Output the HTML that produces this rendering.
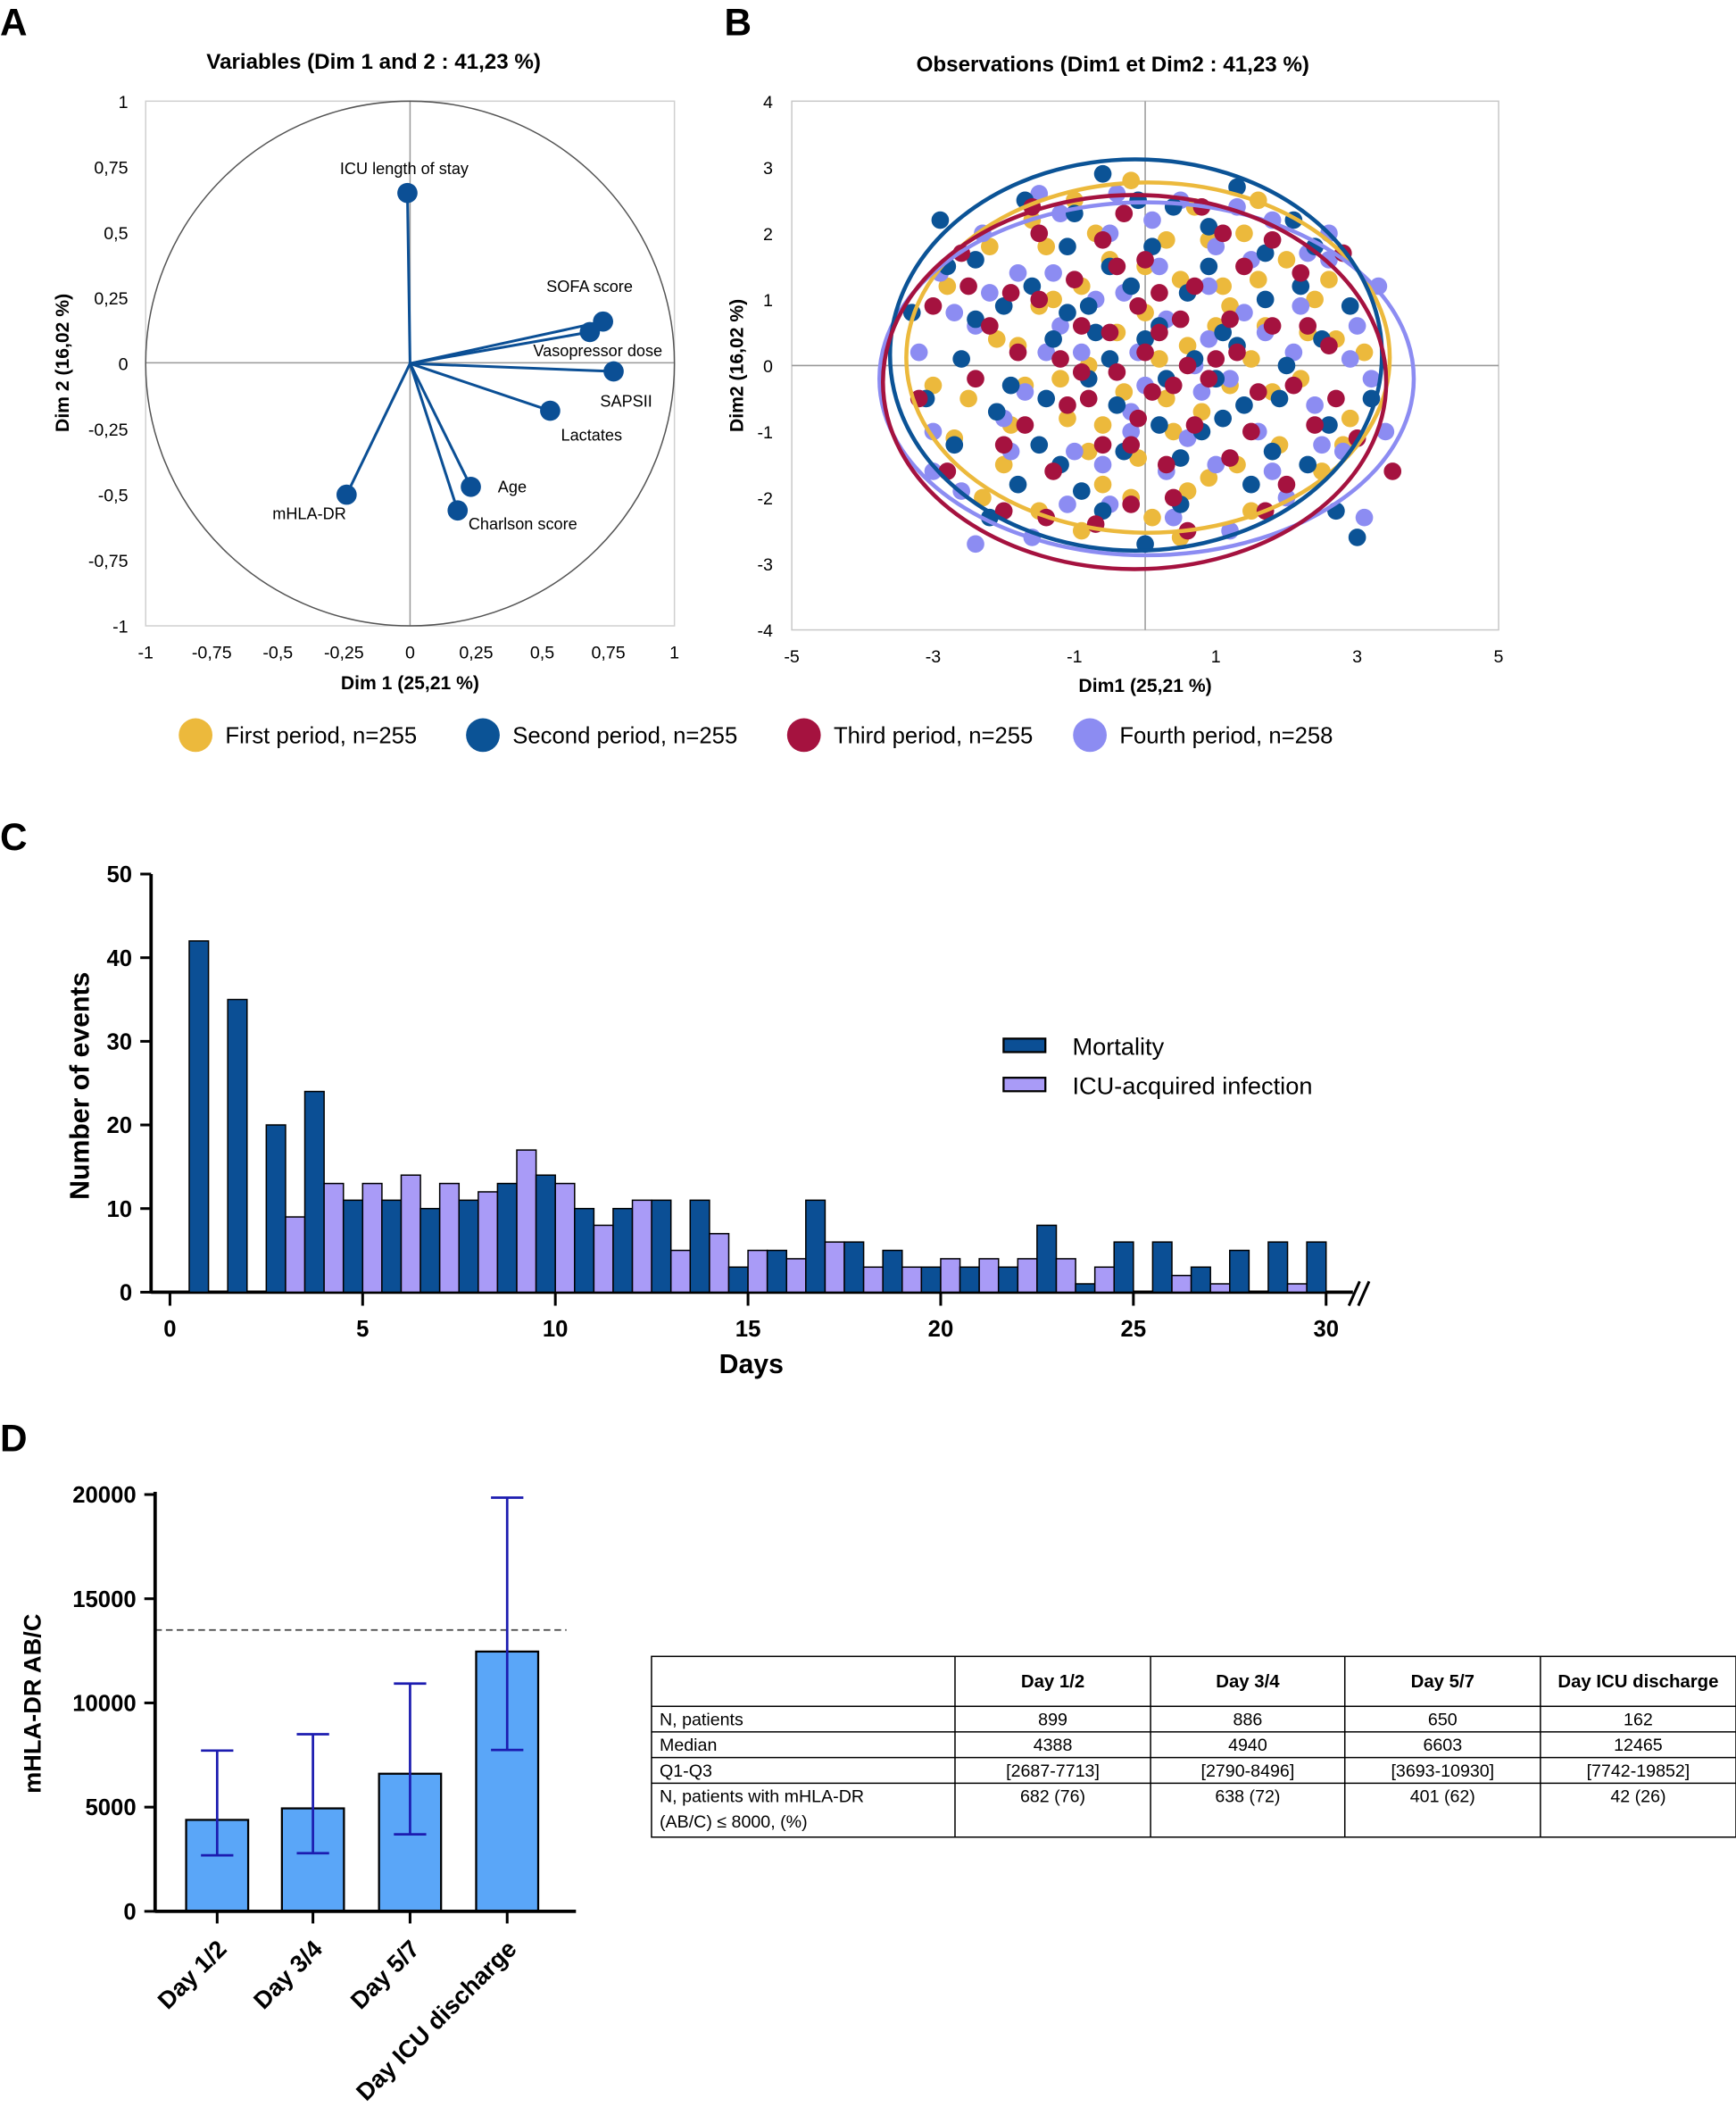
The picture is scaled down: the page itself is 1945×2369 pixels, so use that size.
<!DOCTYPE html>
<html><head><meta charset="utf-8"><style>
html,body{margin:0;padding:0;background:#fff;}
svg{display:block;font-family:"Liberation Sans",Arial,sans-serif;}
</style></head><body>
<svg id="fig" width="1945" height="2369" viewBox="0 0 1287 1568" preserveAspectRatio="none" xmlns="http://www.w3.org/2000/svg">
<rect width="1287" height="1568" fill="#fff"/>
<g font-weight="bold" font-size="28" fill="#000">
<text x="0" y="26">A</text>
<text x="537" y="26">B</text>
<text x="0" y="630">C</text>
<text x="0" y="1076">D</text>
</g>
<!-- Panel A -->
<g id="pa">
<text x="277" y="51" text-anchor="middle" font-size="16" font-weight="bold">Variables (Dim 1 and 2 : 41,23 %)</text>
<rect x="108" y="75" width="392" height="389" fill="none" stroke="#d0d0d0" stroke-width="1"/>
<line x1="108" y1="269" x2="500" y2="269" stroke="#999" stroke-width="1"/>
<line x1="304" y1="75" x2="304" y2="464" stroke="#999" stroke-width="1"/>
<ellipse cx="304" cy="269.5" rx="196" ry="194.5" fill="none" stroke="#555" stroke-width="1"/>
<text x="304" y="511" text-anchor="middle" font-size="14" font-weight="bold">Dim 1 (25,21 %)</text>
<text transform="translate(51,269) rotate(-90)" text-anchor="middle" font-size="14" font-weight="bold">Dim 2 (16,02 %)</text>
</g>
<!-- Panel B -->
<g id="pb">
<text x="825" y="53" text-anchor="middle" font-size="16" font-weight="bold">Observations (Dim1 et Dim2 : 41,23 %)</text>
<rect x="587" y="75" width="524" height="392" fill="none" stroke="#c8c8c8" stroke-width="1"/>
<line x1="587" y1="271" x2="1111" y2="271" stroke="#999" stroke-width="1"/>
<line x1="849" y1="75" x2="849" y2="467" stroke="#999" stroke-width="1"/>
<text x="849" y="513" text-anchor="middle" font-size="14" font-weight="bold">Dim1 (25,21 %)</text>
<text transform="translate(551,271) rotate(-90)" text-anchor="middle" font-size="14" font-weight="bold">Dim2 (16,02 %)</text>
</g>
<g id="legB" font-size="17"></g>
<!-- Panel C -->
<g id="pc">
<text x="557" y="1018" text-anchor="middle" font-size="20" font-weight="bold">Days</text>
<text transform="translate(66,805) rotate(-90)" text-anchor="middle" font-size="20" font-weight="bold">Number of events</text>
<path d="M1000 968 L1008 950 M1007 968 L1015 950" stroke="#000" stroke-width="2"/>
<g><rect x="744" y="770" width="31" height="10" fill="#0b4f95" stroke="#000" stroke-width="1.5"/><text x="795" y="782" font-size="18">Mortality</text></g>
<g><rect x="744" y="799" width="31" height="10" fill="#a99bf7" stroke="#000" stroke-width="1.5"/><text x="795" y="811" font-size="18">ICU-acquired infection</text></g>
</g>
<!-- Panel D -->
<g id="pd">
<text transform="translate(30,1263) rotate(-90)" text-anchor="middle" font-size="18" font-weight="bold">mHLA-DR AB/C</text>
</g>
<g id="tbl" font-size="13"></g>
<script>
var NS="http://www.w3.org/2000/svg";
function mk(parent,tag,attrs,txt){var e=document.createElementNS(NS,tag);for(var k in attrs)e.setAttribute(k,attrs[k]);if(txt!==undefined)e.textContent=txt;parent.appendChild(e);return e;}
var pa=document.getElementById('pa'),pb=document.getElementById('pb'),pc=document.getElementById('pc'),pd=document.getElementById('pd');

/* ---------- Panel A data ---------- */
var varNames=["ICU length of stay","SOFA score","Vasopressor dose","SAPSII","Lactates","Age","Charlson score","mHLA-DR"];
var varDim1=[-0.01,0.73,0.68,0.77,0.53,0.23,0.18,-0.24];
var varDim2=[0.65,0.16,0.12,-0.03,-0.18,-0.47,-0.56,-0.50];
var aTicks=[-1,-0.75,-0.5,-0.25,0,0.25,0.5,0.75,1];
var aTickLabels=["-1","-0,75","-0,5","-0,25","0","0,25","0,5","0,75","1"];
function ax(v){return 304+v*196;}
function ay(v){return 269.5-v*194.5;}
var labOff=[[-50,-14],[-42,-22],[-42,18],[-10,26],[8,22],[20,4],[8,14],[-55,18]];
aTicks.forEach(function(t,i){
  var a=mk(pa,'text',{x:95,y:ay(t)+5,'text-anchor':'end','font-size':13},aTickLabels[i]);
  
  
  var b=mk(pa,'text',{x:ax(t),y:488,'text-anchor':'middle','font-size':13},aTickLabels[i]);
  
  
});
varNames.forEach(function(n,i){
  var x=ax(varDim1[i]),y=ay(varDim2[i]);
  var l=mk(pa,'line',{x1:304,y1:269.5,x2:x,y2:y,stroke:'#0b4f95','stroke-width':2});
  
  
  var c=mk(pa,'circle',{cx:x,cy:y,r:7.5,fill:'#0b4f95'});
  
  
  var t=mk(pa,'text',{x:x+labOff[i][0],y:y+labOff[i][1],'font-size':12},n);
  
  
});

/* ---------- Panel B data ---------- */
var yellowPts=[[-2.8,1.2],[-2.5,-0.5],[-2.2,1.8],[-2,-1.5],[-1.8,0.3],[-1.6,2.2],[-1.5,-2.2],[-1.3,1],[-1.1,-0.8],[-1,2.5],[-0.8,0],[-0.6,-1.8],[-0.5,1.6],[-0.3,-0.4],[-0.2,2.8],[0,0.8],[0.1,-2.3],[0.3,1.9],[0.4,-1],[0.6,0.3],[0.7,2.4],[0.9,-1.7],[1.1,1.2],[1.2,-0.3],[1.4,2],[1.5,-2.2],[1.7,0.6],[1.9,-1.2],[2,1.6],[2.2,-0.2],[2.4,1],[2.5,-1.6],[2.7,0.4],[2.9,-0.8],[3.1,0.2],[-3,-0.3],[0.5,-2.6],[-0.9,-2.5],[1.6,2.5],[-2.3,-2],
[-1.5,0.9],[-1.2,-0.2],[-0.9,1.2],[-0.6,-0.9],[-0.4,0.5],[-0.1,-1.4],[0.2,0.1],[0.5,1.3],[0.8,-0.7],[1.0,0.6],[1.3,-1.5],[1.6,1.3],[1.8,-0.4],[-1.9,-0.9],[-1.4,1.8],[-0.7,2.0],[0.3,-0.5],[0.9,1.9],[1.5,0.1],[2.3,0.5],[-2.1,0.4],[-0.2,-2.0],[0.6,-1.9],[2.6,1.3],[2.8,-1.2],[-2.7,-1.1],[-1.7,-0.3],[0.0,1.5],[1.2,0.9],[-0.8,-1.3]];
var lavenderPts=[[-3.2,0.2],[-3,-1],[-2.9,1.4],[-2.6,-1.9],[-2.4,0.6],[-2.3,2],[-2,-0.8],[-1.8,1.4],[-1.6,-2.6],[-1.4,0.2],[-1.2,2.3],[-1,-1.3],[-0.7,1],[-0.5,-2.1],[-0.4,2.6],[-0.2,-0.7],[0.2,1.5],[0.3,-1.6],[0.5,2.5],[0.8,-0.4],[1,1.8],[1.2,-2.5],[1.4,0.8],[1.6,-1],[1.8,2.2],[2,-2],[2.2,0.9],[2.4,-0.6],[2.6,1.6],[2.8,-1.3],[3,0.6],[3.2,-0.2],[3.3,1.2],[3.4,-1],[3.1,-2.3],[-2.4,-2.7],[2.6,2],[-1.2,0.6],[0.9,0.4],[-0.1,0.2],
[-1.7,-0.4],[-1.3,1.4],[-0.9,0.2],[-0.6,-1.5],[-0.3,1.1],[0.0,-0.3],[0.3,0.7],[0.6,-1.1],[0.9,1.2],[1.2,-0.2],[1.5,1.6],[1.8,-1.6],[2.1,0.2],[-2.2,1.1],[-1.9,-1.3],[-0.5,2.0],[0.4,-2.3],[1.0,-1.5],[1.7,0.5],[2.5,-1.2],[2.9,0.1],[-2.7,0.8],[-1.1,-2.1],[0.1,2.2],[2.3,1.7],[-3.0,-1.6],[-0.2,-1.0],[0.7,0.0],[1.3,2.4],[-1.5,2.6]];
var bluePts=[[-3.3,0.8],[-3.1,-0.5],[-2.9,2.2],[-2.7,-1.2],[-2.6,0.1],[-2.4,1.6],[-2.2,-2.3],[-2,0.9],[-1.9,-0.3],[-1.7,2.5],[-1.5,-1.2],[-1.3,0.4],[-1.1,1.8],[-0.9,-1.9],[-0.8,0.9],[-0.6,2.9],[-0.4,-0.6],[-0.2,1.2],[0,-2.7],[0.2,0.6],[0.4,2.4],[0.5,-1.4],[0.7,0.1],[0.9,1.5],[1.1,-0.8],[1.3,2.7],[1.5,-1.8],[1.7,1],[1.9,-0.5],[2.1,2.2],[2.3,-1.5],[2.5,0.4],[2.7,-2.2],[2.9,0.9],[3.2,-0.5],[3.0,-2.6],[1.3,0.3],[-0.5,0.1],[0.1,1.8],[-1.8,-1.8],
[-1.6,1.2],[-1.4,-0.5],[-1.1,0.8],[-0.8,-0.2],[-0.5,1.5],[-0.3,-1.3],[0.0,0.4],[0.3,-0.2],[0.6,1.1],[0.8,-1.0],[1.1,0.5],[1.4,-0.6],[1.7,1.7],[2.0,0.0],[-2.1,-0.7],[-1.0,2.3],[-0.1,2.5],[0.9,2.1],[2.2,1.2],[-2.4,0.7],[-0.6,-2.2],[0.5,-2.1],[1.8,-1.3],[2.6,-0.9],[-1.2,-1.5],[0.2,-0.9],[-0.7,0.5],[1.0,-0.2],[-2.8,1.5],[2.4,1.8]];
var crimsonPts=[[-3.2,-0.5],[-3,0.9],[-2.8,-1.6],[-2.6,1.7],[-2.4,-0.2],[-2.2,0.6],[-2,-2.2],[-1.9,1.1],[-1.7,-0.9],[-1.5,2],[-1.3,-1.6],[-1.2,0.1],[-1,1.3],[-0.8,-0.5],[-0.7,-2.4],[-0.5,0.5],[-0.3,2.3],[-0.2,-1.2],[0,0.2],[0.1,-0.4],[0.2,1.1],[0.4,-2],[0.5,0.7],[0.7,-0.9],[0.8,2.4],[1,0.1],[1.2,-1.4],[1.4,1.5],[1.6,-0.4],[1.8,0.6],[2,-1.8],[2.2,1.4],[2.4,-0.9],[2.6,0.3],[2.8,1.7],[3,-1.1],[3.5,-1.6],[-0.4,-0.1],[0.6,0.0],[-0.1,0.9],
[-1.8,0.2],[-1.5,1.0],[-1.1,-0.6],[-0.9,0.6],[-0.6,-1.2],[-0.4,1.5],[-0.1,-0.8],[0.2,0.5],[0.4,-0.3],[0.7,1.2],[0.9,-0.2],[1.2,0.7],[1.5,-1.0],[1.8,1.9],[2.1,-0.3],[-2.0,-1.2],[-1.6,2.4],[-0.6,1.9],[0.3,-1.5],[0.6,-2.5],[1.1,2.0],[2.3,0.6],[-2.5,1.2],[-1.4,-2.3],[1.7,-2.2],[2.7,-0.5],[-0.2,-2.1],[0.0,1.6],[-0.9,-0.1],[1.3,0.2]];
var ellCx=[0.04,-0.13,-0.15,0.02], ellCy=[0.12,0.16,-0.25,-0.2], ellRx=[3.42,3.48,3.56,3.78], ellRy=[2.65,2.96,2.83,2.67];
var bYTicks=[4,3,2,1,0,-1,-2,-3,-4];
var bXTicks=[-5,-3,-1,1,3,5];
var periodLabels=["First period, n=255","Second period, n=255","Third period, n=255","Fourth period, n=258"];
function bx(v){return 849+v*52.4;}
function by(v){return 271-v*49;}
var pcol=['#ecb93c','#0b5396','#a5123f','#8c8cf2'];
bYTicks.forEach(function(t){
  var e=mk(pb,'text',{x:573,y:by(t)+5,'text-anchor':'end','font-size':13},String(t));
  
  
});
bXTicks.forEach(function(t){
  var e=mk(pb,'text',{x:bx(t),y:491,'text-anchor':'middle','font-size':13},String(t));
  
  
});
var groups=[yellowPts,bluePts,crimsonPts,lavenderPts];
[0,3,1,2].forEach(function(g){
  groups[g].forEach(function(p){
    var c=mk(pb,'circle',{cx:bx(p[0]),cy:by(p[1]),r:6.5,fill:pcol[g]});
    
    
  });
});
[0,3,1,2].forEach(function(g){
  var e=mk(pb,'ellipse',{cx:bx(ellCx[g]),cy:by(ellCy[g]),rx:ellRx[g]*52.4,ry:ellRy[g]*49,fill:'none',stroke:pcol[g],'stroke-width':3});
  
  
});
var legB=document.getElementById('legB');
var legX=[145,358,596,808];
periodLabels.forEach(function(l,i){
  var c=mk(legB,'circle',{cx:legX[i],cy:545,r:12.5,fill:pcol[i]});
  
  
  var t=mk(legB,'text',{x:legX[i]+22,y:551},l);
  
  
});

/* ---------- Panel C data ---------- */
var days=[1,2,3,4,5,6,7,8,9,10,11,12,13,14,15,16,17,18,19,20,21,22,23,24,25,26,27,28,29,30];
var mortality=[42,35,20,24,11,11,10,11,13,14,10,10,11,11,3,5,11,6,5,3,3,3,8,1,6,6,3,5,6,6];
var infection=[0,0,9,13,13,14,13,12,17,13,8,11,5,7,5,4,6,3,3,4,4,4,4,3,0,2,1,0,1,0];
var cYTicks=[0,10,20,30,40,50];
var cXTicks=[0,5,10,15,20,25,30];
function cx(d){return 126+d*28.57;}
function cy(v){return 958-v*6.2;}
mk(pc,'line',{x1:112,y1:958,x2:1003,y2:958,stroke:'#000','stroke-width':2.5});
mk(pc,'line',{x1:112,y1:648,x2:112,y2:959,stroke:'#000','stroke-width':2.5});
cYTicks.forEach(function(t){
  var l=mk(pc,'line',{x1:104,y1:cy(t),x2:112,y2:cy(t),stroke:'#000','stroke-width':2});
  
  
  var e=mk(pc,'text',{x:98,y:cy(t)+6,'text-anchor':'end','font-size':17,'font-weight':'bold'},String(t));
  
  
});
cXTicks.forEach(function(t){
  var l=mk(pc,'line',{x1:cx(t),y1:958,x2:cx(t),y2:968,stroke:'#000','stroke-width':2});
  
  
  var e=mk(pc,'text',{x:cx(t),y:991,'text-anchor':'middle','font-size':17,'font-weight':'bold'},String(t));
  
  
});
days.forEach(function(d,i){
  if(mortality[i]>0){
    var r=mk(pc,'rect',{x:cx(d)-14.3,y:cy(mortality[i]),width:14.3,height:mortality[i]*6.2,fill:'#0b4f95',stroke:'#000','stroke-width':1});
    
    
  }
  if(infection[i]>0){
    var q=mk(pc,'rect',{x:cx(d),y:cy(infection[i]),width:14.3,height:infection[i]*6.2,fill:'#a99bf7',stroke:'#000','stroke-width':1});
    
    
  }
});

/* ---------- Panel D data ---------- */
var dCats=["Day 1/2","Day 3/4","Day 5/7","Day ICU discharge"];
var dMedian=[4388,4940,6603,12465];
var dQ1=[2687,2790,3693,7742];
var dQ3=[7713,8496,10930,19852];
var dThreshold=13500;
var dYTicks=[0,5000,10000,15000,20000];
function dy(v){return 1417-v*0.01545;}
var dCenters=[161,232,304,376];
mk(pd,'line',{x1:115,y1:dy(dThreshold),x2:420,y2:dy(dThreshold),stroke:'#444','stroke-width':1.2,'stroke-dasharray':'5,3'});
dCats.forEach(function(c,i){
  var x=dCenters[i];
  var r=mk(pd,'rect',{x:x-23,y:dy(dMedian[i]),width:46,height:dMedian[i]*0.01545,fill:'#5aa6f8',stroke:'#000','stroke-width':1.5});
  
  
  var e=mk(pd,'path',{d:'M'+x+' '+dy(dQ1[i])+'V'+dy(dQ3[i])+'M'+(x-12)+' '+dy(dQ1[i])+'H'+(x+12)+'M'+(x-12)+' '+dy(dQ3[i])+'H'+(x+12),stroke:'#1c1cb0','stroke-width':1.8,fill:'none'});
  
  
  var l=mk(pd,'line',{x1:x,y1:1417,x2:x,y2:1426,stroke:'#000','stroke-width':2});
  
  
  var t=mk(pd,'text',{transform:'translate('+(x+8)+',1446) rotate(-45)','text-anchor':'end','font-size':18,'font-weight':'bold'},c);
  
  
});
mk(pd,'line',{x1:115,y1:1417,x2:427,y2:1417,stroke:'#000','stroke-width':2.5});
mk(pd,'line',{x1:115,y1:1106,x2:115,y2:1418,stroke:'#000','stroke-width':2.5});
dYTicks.forEach(function(t){
  var l=mk(pd,'line',{x1:107,y1:dy(t),x2:115,y2:dy(t),stroke:'#000','stroke-width':2});
  
  
  var e=mk(pd,'text',{x:101,y:dy(t)+6,'text-anchor':'end','font-size':17,'font-weight':'bold'},String(t));
  
  
});

/* ---------- Table ---------- */
var tbl=document.getElementById('tbl');
var colX=[483,708,853,997,1142,1287];
var rowY=[1228,1265,1284,1303,1322,1362];
var tHead=["","Day 1/2","Day 3/4","Day 5/7","Day ICU discharge"];
var tRows=[["N, patients","899","886","650","162"],["Median","4388","4940","6603","12465"],["Q1-Q3","[2687-7713]","[2790-8496]","[3693-10930]","[7742-19852]"],["N, patients with mHLA-DR","682 (76)","638 (72)","401 (62)","42 (26)"]];
mk(tbl,'rect',{x:483,y:1228,width:804,height:134,fill:'none',stroke:'#000','stroke-width':1});
colX.slice(1,5).forEach(function(x){mk(tbl,'line',{x1:x,y1:1228,x2:x,y2:1362,stroke:'#000','stroke-width':1});});
rowY.slice(1,5).forEach(function(y){mk(tbl,'line',{x1:483,y1:y,x2:1287,y2:y,stroke:'#000','stroke-width':1});});
tHead.forEach(function(h,j){
  if(!h)return;
  var t=mk(tbl,'text',{x:(colX[j]+colX[j+1])/2,y:1251,'text-anchor':'middle','font-weight':'bold','font-size':13.5},h);
  
  
});
tRows.forEach(function(r,i){
  r.forEach(function(v,j){
    var t=mk(tbl,'text',{x:j==0?489:(colX[j]+colX[j+1])/2,y:rowY[i+1]+14,'text-anchor':j==0?'start':'middle'},v);
    
    
  });
});
var t2=mk(tbl,'text',{x:489,y:1355},"(AB/C) \u2264 8000, (%)");


</script>
</svg>
</body></html>
